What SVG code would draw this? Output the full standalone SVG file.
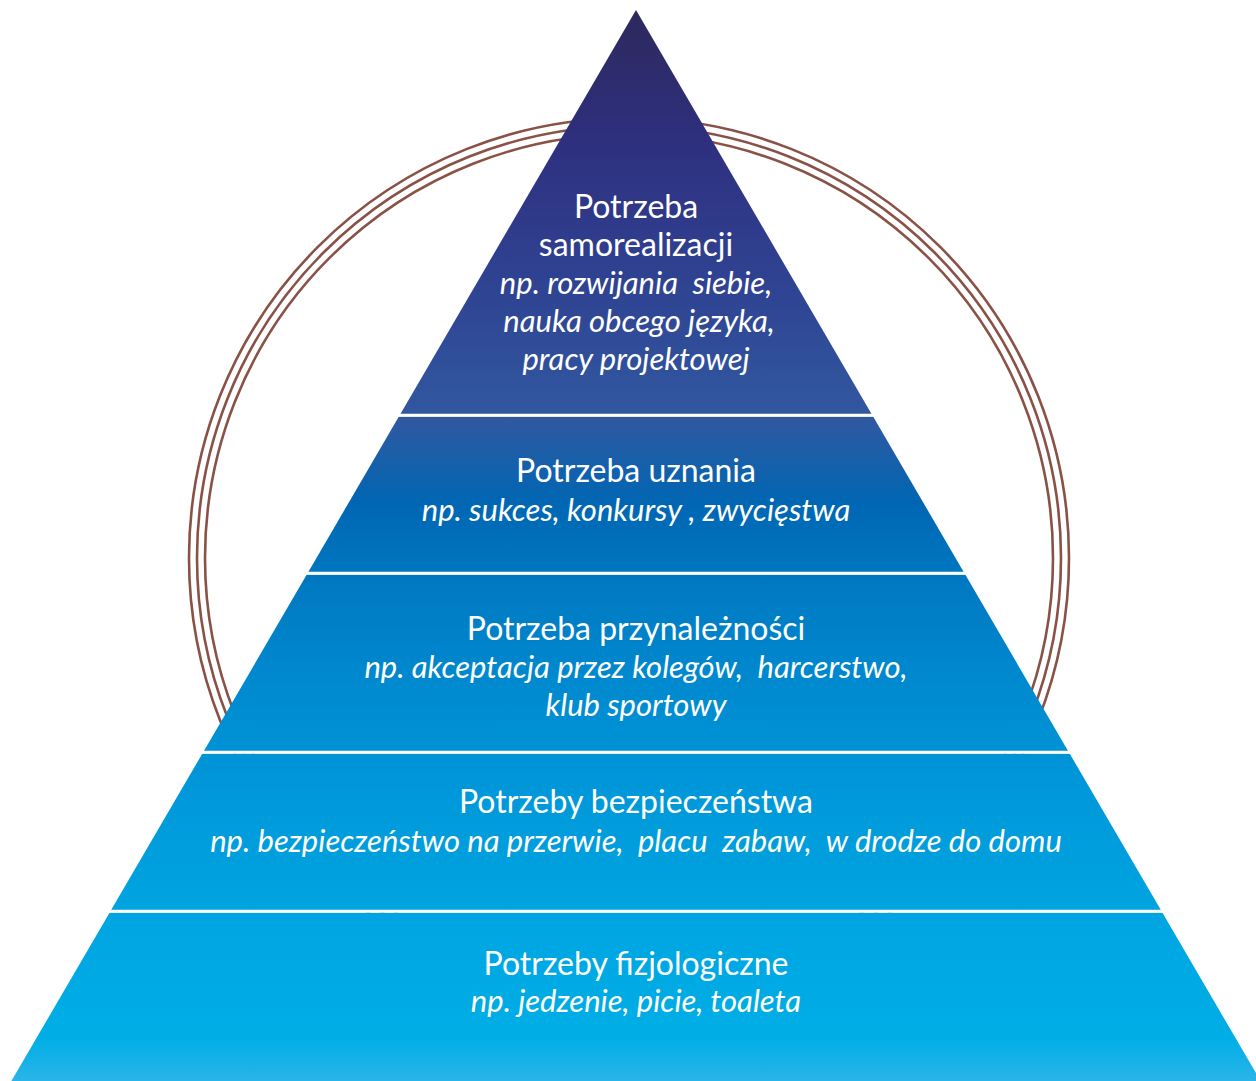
<svg xmlns="http://www.w3.org/2000/svg" width="1256" height="1081" viewBox="0 0 1256 1081">
<defs>
<linearGradient id="pg" gradientUnits="userSpaceOnUse" x1="0" y1="10" x2="0" y2="1081">
<stop offset="0" stop-color="#2d295c"/>
<stop offset="0.12" stop-color="#2e2f7e"/>
<stop offset="0.27" stop-color="#2f4594"/>
<stop offset="0.38" stop-color="#3158a0"/>
<stop offset="0.46" stop-color="#0066b3"/>
<stop offset="0.53" stop-color="#0078c1"/>
<stop offset="0.62" stop-color="#0088ce"/>
<stop offset="0.73" stop-color="#0098da"/>
<stop offset="0.87" stop-color="#00a7e2"/>
<stop offset="0.96" stop-color="#00aee6"/>
<stop offset="1" stop-color="#2ab4e9"/>
</linearGradient>
<style>
.ring{fill:none;stroke:#8a5247;stroke-width:2.6}
.band{fill:url(#pg)}
.sep{stroke:#ffffff;stroke-width:3}
.t{font-family:Lato,"Liberation Sans",sans-serif;font-size:32px;fill:#ffffff;text-anchor:middle;white-space:pre}
.i{font-style:italic;font-size:31px}
</style>
</defs>
<g id="rings">
<circle class="ring" cx="629" cy="558" r="440"/>
<circle class="ring" cx="629" cy="558" r="432"/>
<circle class="ring" cx="629" cy="558" r="424"/>
</g>
<g id="level5-samorealizacja">
<polygon class="band" points="636,10 871.6,414 400.4,414"/>
<text class="t" x="636" y="218" xml:space="preserve">Potrzeba</text>
<text class="t" x="636" y="256" xml:space="preserve">samorealizacji</text>
<text class="t i" x="636" y="294" xml:space="preserve">np. rozwijania  siebie,</text>
<text class="t i" x="639" y="332" xml:space="preserve">nauka obcego języka,</text>
<text class="t i" x="636" y="370" xml:space="preserve">pracy projektowej</text>
</g>
<g id="level4-uznanie">
<polygon class="band" points="398.9,416.5 873.1,416.5 963.7,572 308.3,572"/>
<text class="t" x="636" y="482" xml:space="preserve">Potrzeba uznania</text>
<text class="t i" x="636" y="521" xml:space="preserve">np. sukces, konkursy , zwycięstwa</text>
</g>
<g id="level3-przynaleznosc">
<polygon class="band" points="306.8,574.5 965.2,574.5 1068.1,751 203.9,751"/>
<text class="t" x="636" y="640" xml:space="preserve">Potrzeba przynależności</text>
<text class="t i" x="636" y="678" xml:space="preserve">np. akceptacja przez kolegów,  harcerstwo,</text>
<text class="t i" x="636" y="716" xml:space="preserve">klub sportowy</text>
</g>
<g id="level2-bezpieczenstwo">
<polygon class="band" points="202.4,753.5 1069.6,753.5 1160.9,910 111.1,910"/>
<text class="t" x="636" y="813" xml:space="preserve">Potrzeby bezpieczeństwa</text>
<text class="t i" x="636" y="852" xml:space="preserve">np. bezpieczeństwo na przerwie,  placu  zabaw,  w drodze do domu</text>
</g>
<g id="level1-fizjologiczne">
<polygon class="band" points="109.7,912.5 1162.3,912.5 1260.6,1081 11.4,1081"/>
<text class="t" x="636" y="975" xml:space="preserve">Potrzeby fizjologiczne</text>
<text class="t i" x="636" y="1012" xml:space="preserve">np. jedzenie, picie, toaleta</text>
</g>
<g id="connectors">
<line class="sep" x1="396" y1="415.3" x2="876" y2="415.3"/>
<line class="sep" x1="304" y1="573.3" x2="968" y2="573.3"/>
<line class="sep" x1="200" y1="752.3" x2="1072" y2="752.3"/>
<line class="sep" x1="107" y1="911.3" x2="1165" y2="911.3"/>
</g>
</svg>
